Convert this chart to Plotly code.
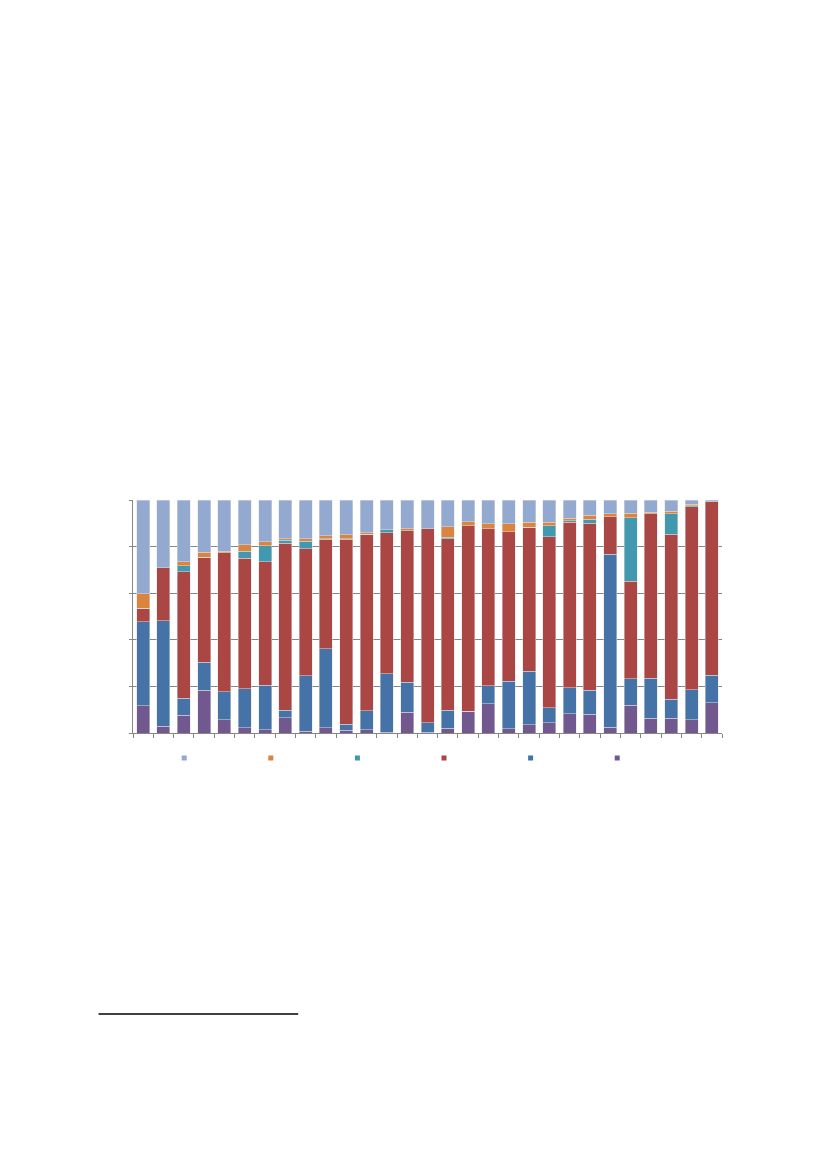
import plotly.graph_objects as go

# 29 unlabeled columns, shares per series (bottom -> top)
categories = [str(i) for i in range(1, 30)]

purple = [11.7, 3.0, 7.6, 18.3, 5.7, 2.3, 1.3, 6.6, 0.7, 2.3, 1.1, 1.3, 0.4, 8.9, 0.4,
          2.0, 9.4, 12.6, 1.9, 3.6, 4.3, 8.3, 8.0, 2.4, 11.9, 6.3, 6.3, 5.6, 12.9]
blue = [36.1, 45.2, 7.4, 12.0, 12.0, 16.7, 19.2, 3.1, 23.9, 33.8, 2.6, 8.3, 25.1, 12.8, 4.0,
        7.7, 0.0, 7.7, 20.3, 23.0, 6.6, 11.2, 10.3, 74.3, 11.3, 17.2, 8.1, 13.0, 11.8]
red = [5.8, 22.8, 54.2, 45.2, 59.7, 56.1, 53.0, 71.7, 54.4, 47.0, 79.7, 75.7, 60.5, 65.1, 83.3,
       73.6, 79.6, 67.3, 64.1, 61.8, 73.4, 70.9, 71.8, 16.1, 41.9, 70.6, 70.9, 78.5, 74.6]
teal = [0.0, 0.0, 2.5, 0.0, 0.0, 3.0, 6.8, 1.4, 3.4, 0.3, 0.2, 0.0, 1.3, 0.0, 0.0,
        0.8, 0.0, 0.0, 0.0, 0.0, 4.7, 0.7, 1.6, 0.0, 27.3, 0.0, 8.8, 0.5, 0.0]
orange = [6.1, 0.0, 1.8, 2.0, 0.6, 2.6, 1.8, 0.6, 1.0, 1.3, 1.7, 0.7, 0.0, 0.9, 0.0,
          4.5, 1.7, 2.2, 3.5, 2.0, 1.4, 1.0, 1.7, 1.2, 1.9, 0.7, 1.0, 0.5, 0.0]
lightblue = [40.3, 29.0, 26.5, 22.5, 22.0, 19.3, 17.9, 16.6, 16.6, 15.3, 14.9, 14.0, 12.7, 12.3, 12.3,
             11.4, 9.3, 10.2, 10.2, 9.6, 9.6, 7.9, 6.6, 6.0, 5.7, 5.2, 4.9, 1.9, 0.7]

series = [
    (purple, "#71588F"),
    (blue, "#4572A7"),
    (red, "#AA4643"),
    (teal, "#4198AF"),
    (orange, "#DB843D"),
    (lightblue, "#93A9CF"),
]

fig = go.Figure()
for vals, col in series:
    fig.add_trace(go.Bar(
        x=categories, y=vals, marker_color=col,
        marker_line=dict(color="rgba(225,225,225,0.7)", width=0.7),
        showlegend=False, hoverinfo="skip",
    ))

# small square legend keys, top series first
for vals, col in reversed(series):
    fig.add_trace(go.Scatter(
        x=[None], y=[None], mode="markers", name="",
        marker=dict(symbol="square", size=5, color=col),
    ))

fig.update_layout(
    width=827, height=1169,
    margin=dict(l=124.5, r=112.5, t=492, b=444),
    paper_bgcolor="white", plot_bgcolor="white",
    barmode="stack", barnorm="percent", bargap=0.36,
    showlegend=True,
    legend=dict(orientation="h", x=0.053, y=-0.045, xanchor="left", yanchor="top",
                traceorder="normal",
                entrywidthmode="pixels", entrywidth=41.6,
                font=dict(size=10, color="white")),
    shapes=[dict(type="line", xref="paper", yref="paper",
                 x0=-0.0585, x1=0.2805, y0=-1.206, y1=-1.206,
                 line=dict(color="black", width=1.3))],
)
fig.update_xaxes(showticklabels=False, showgrid=False, showline=True, linecolor="#868686",
                 ticks="outside", tickson="boundaries", ticklen=4, tickcolor="#868686")
fig.update_yaxes(range=[0, 100], dtick=20, showticklabels=False, showgrid=True,
                 gridcolor="#868686", gridwidth=1, zeroline=False, showline=True,
                 linecolor="#868686", ticks="outside", ticklen=3, tickcolor="#868686")

fig.write_html("out.html")
